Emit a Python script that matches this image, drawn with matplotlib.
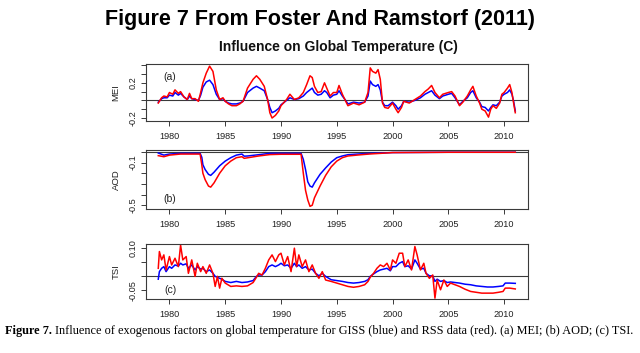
import matplotlib
matplotlib.use("Agg")
import matplotlib.pyplot as plt
from matplotlib.ticker import FixedLocator, FuncFormatter

# ---------------- data ----------------
mei_years = [1979.0, 1979.3, 1979.5, 1979.8, 1980.0, 1980.3, 1980.5, 1980.8, 1981.0, 1981.3,
             1981.6, 1981.8, 1982.0, 1982.3, 1982.6, 1982.8, 1983.0, 1983.3, 1983.6, 1983.9,
             1984.2, 1984.5, 1984.8, 1985.0, 1985.3, 1985.6, 1986.0, 1986.3, 1986.6, 1987.0,
             1987.5, 1987.8, 1988.1, 1988.5, 1988.8, 1989.0, 1989.2, 1989.5, 1989.8, 1990.0,
             1990.5, 1990.8, 1991.2, 1991.6, 1992.0, 1992.3, 1992.6, 1992.8, 1993.0, 1993.3,
             1993.6, 1993.9, 1994.1, 1994.4, 1994.7, 1995.0, 1995.2, 1995.5, 1995.8, 1996.0,
             1996.5, 1997.0, 1997.5, 1997.8, 1998.0, 1998.2, 1998.5, 1998.7, 1998.9, 1999.1,
             1999.3, 1999.6, 2000.0, 2000.3, 2000.5, 2000.8, 2001.0, 2001.5, 2002.0, 2002.5,
             2002.9, 2003.2, 2003.5, 2003.8, 2004.2, 2004.5, 2005.0, 2005.3, 2005.6, 2006.0,
             2006.3, 2006.7, 2007.0, 2007.2, 2007.5, 2007.8, 2008.0, 2008.3, 2008.6, 2008.8,
             2009.0, 2009.3, 2009.6, 2009.8, 2010.0, 2010.3, 2010.5, 2010.7, 2010.85, 2011.0]
mei_rss = [-0.03, 0.03, 0.05, 0.04, 0.09, 0.07, 0.12, 0.08, 0.10, 0.04,
           0.01, 0.08, 0.02, 0.02, -0.01, 0.09, 0.20, 0.31, 0.39, 0.33,
           0.12, 0.01, 0.03, -0.01, -0.04, -0.06, -0.06, -0.04, -0.01, 0.14,
           0.24, 0.28, 0.24, 0.16, 0.01, -0.14, -0.20, -0.17, -0.12, -0.06,
           0.01, 0.07, 0.01, 0.03, 0.09, 0.18, 0.28, 0.26, 0.16, 0.09,
           0.10, 0.20, 0.14, 0.05, 0.09, 0.09, 0.17, 0.07, -0.01, -0.06,
           -0.03, -0.05, -0.02, 0.09, 0.37, 0.33, 0.31, 0.35, 0.24, -0.03,
           -0.08, -0.09, -0.03, -0.10, -0.14, -0.08, -0.01, -0.03, 0.01, 0.05,
           0.10, 0.13, 0.17, 0.09, 0.03, 0.07, 0.09, 0.10, 0.05, -0.06,
           -0.02, 0.05, 0.12, 0.16, 0.05, -0.03, -0.10, -0.12, -0.19, -0.10,
           -0.06, -0.09, -0.03, 0.07, 0.09, 0.14, 0.18, 0.09, -0.03, -0.14]
mei_giss = [-0.02, 0.02, 0.03, 0.03, 0.06, 0.05, 0.09, 0.06, 0.08, 0.04,
            0.01, 0.05, 0.02, 0.01, 0.00, 0.06, 0.15, 0.21, 0.23, 0.18,
            0.07, 0.01, 0.02, -0.01, -0.03, -0.04, -0.04, -0.03, -0.01, 0.09,
            0.14, 0.16, 0.14, 0.11, 0.01, -0.08, -0.14, -0.12, -0.09, -0.05,
            0.00, 0.03, 0.01, 0.02, 0.05, 0.09, 0.12, 0.14, 0.09, 0.06,
            0.07, 0.11, 0.09, 0.03, 0.06, 0.07, 0.11, 0.05, 0.00, -0.04,
            -0.02, -0.03, -0.02, 0.05, 0.22, 0.18, 0.16, 0.18, 0.12, -0.02,
            -0.06, -0.06, -0.02, -0.06, -0.10, -0.06, -0.01, -0.02, 0.00, 0.03,
            0.07, 0.09, 0.11, 0.06, 0.02, 0.05, 0.07, 0.08, 0.03, -0.05,
            -0.01, 0.03, 0.09, 0.11, 0.03, -0.02, -0.07, -0.08, -0.12, -0.08,
            -0.05, -0.06, -0.02, 0.05, 0.07, 0.09, 0.12, 0.07, -0.01, -0.12]

aod_years = [1979.0, 1979.5, 1980.0, 1981.0, 1982.0, 1982.75, 1982.9, 1983.0, 1983.2, 1983.5,
             1983.7, 1984.0, 1984.5, 1985.0, 1985.5, 1986.0, 1986.5, 1986.7, 1987.0, 1988.0,
             1989.0, 1990.0, 1991.0, 1991.8, 1992.0, 1992.2, 1992.4, 1992.6, 1992.8, 1993.0,
             1993.5, 1994.0, 1994.5, 1995.0, 1995.5, 1996.0, 1997.0, 1998.0, 1999.0, 2000.0,
             2005.0, 2011.0]
aod_giss = [-0.010, -0.030, -0.020, -0.013, -0.013, -0.013, -0.050, -0.120, -0.165, -0.210,
            -0.220, -0.190, -0.130, -0.086, -0.054, -0.030, -0.020, -0.040, -0.038, -0.026,
            -0.013, -0.013, -0.013, -0.013, -0.070, -0.165, -0.280, -0.320, -0.330, -0.290,
            -0.210, -0.150, -0.095, -0.054, -0.038, -0.026, -0.019, -0.013, -0.010, -0.006,
            -0.003, -0.003]
aod_rss = [-0.035, -0.045, -0.030, -0.020, -0.020, -0.020, -0.120, -0.200, -0.260, -0.320,
           -0.330, -0.290, -0.200, -0.130, -0.086, -0.054, -0.045, -0.060, -0.055, -0.038,
           -0.025, -0.022, -0.022, -0.022, -0.200, -0.360, -0.450, -0.510, -0.500, -0.430,
           -0.320, -0.220, -0.140, -0.086, -0.054, -0.038, -0.028, -0.019, -0.013, -0.006,
           -0.003, -0.003]

tsi_years = [1979.0, 1979.1, 1979.3, 1979.5, 1979.7, 1980.0, 1980.2, 1980.5, 1980.8, 1981.0,
             1981.2, 1981.5, 1981.7, 1982.0, 1982.3, 1982.5, 1982.8, 1983.0, 1983.3, 1983.6,
             1983.9, 1984.1, 1984.3, 1984.5, 1984.7, 1985.0, 1985.5, 1986.0, 1986.5, 1987.0,
             1987.5, 1987.8, 1988.0, 1988.3, 1988.6, 1988.9, 1989.2, 1989.5, 1989.8, 1990.0,
             1990.3, 1990.6, 1990.9, 1991.2, 1991.4, 1991.6, 1991.9, 1992.2, 1992.5, 1992.8,
             1993.1, 1993.4, 1993.7, 1994.0, 1994.5, 1995.0, 1995.5, 1996.0, 1996.5, 1997.0,
             1997.5, 1997.8, 1998.0, 1998.3, 1998.6, 1998.9, 1999.2, 1999.5, 1999.8, 2000.0,
             2000.3, 2000.6, 2000.9, 2001.1, 2001.4, 2001.7, 2002.0, 2002.2, 2002.5, 2002.8,
             2003.0, 2003.3, 2003.6, 2003.8, 2004.0, 2004.3, 2004.6, 2004.9, 2005.2, 2005.6,
             2006.0, 2006.5, 2007.0, 2007.5, 2008.0, 2008.5, 2009.0, 2009.5, 2009.9, 2010.1,
             2010.5, 2011.0]
tsi_rss = [0.029, 0.089, 0.059, 0.077, 0.023, 0.071, 0.041, 0.065, 0.035, 0.112,
           0.059, 0.071, 0.011, 0.059, 0.000, 0.047, 0.017, 0.035, 0.011, 0.041,
           0.011, -0.036, 0.000, -0.042, -0.007, -0.024, -0.036, -0.034, -0.036, -0.034,
           -0.022, -0.003, 0.011, 0.005, 0.029, 0.059, 0.077, 0.053, 0.077, 0.083,
           0.041, 0.071, 0.017, 0.101, 0.035, 0.077, 0.035, 0.059, 0.017, 0.041,
           0.011, -0.007, 0.017, -0.013, -0.018, -0.024, -0.030, -0.036, -0.039, -0.036,
           -0.030, -0.018, -0.003, 0.011, 0.029, 0.041, 0.035, 0.047, 0.023, 0.059,
           0.047, 0.083, 0.083, 0.035, 0.059, 0.023, 0.107, 0.077, 0.023, 0.047,
           0.011, -0.007, 0.005, -0.078, -0.013, -0.048, -0.013, -0.036, -0.024, -0.030,
           -0.036, -0.046, -0.054, -0.057, -0.060, -0.060, -0.060, -0.057, -0.054, -0.042,
           -0.042, -0.045]
tsi_giss = [-0.010, 0.017, 0.029, 0.035, 0.017, 0.035, 0.029, 0.041, 0.037, 0.047,
            0.041, 0.045, 0.029, 0.041, 0.023, 0.035, 0.026, 0.029, 0.017, 0.023,
            0.011, 0.000, -0.003, -0.007, -0.010, -0.018, -0.022, -0.018, -0.022, -0.020,
            -0.015, 0.000, 0.005, 0.005, 0.017, 0.035, 0.041, 0.035, 0.041, 0.047,
            0.038, 0.041, 0.029, 0.047, 0.035, 0.041, 0.029, 0.035, 0.023, 0.026,
            0.011, 0.002, 0.011, 0.000, -0.012, -0.015, -0.018, -0.022, -0.024, -0.022,
            -0.018, -0.012, 0.000, 0.009, 0.017, 0.023, 0.026, 0.029, 0.020, 0.035,
            0.035, 0.047, 0.053, 0.035, 0.038, 0.026, 0.059, 0.047, 0.026, 0.029,
            0.011, 0.002, 0.002, -0.018, -0.010, -0.018, -0.015, -0.022, -0.020, -0.022,
            -0.024, -0.028, -0.030, -0.034, -0.036, -0.038, -0.038, -0.036, -0.034, -0.024,
            -0.024, -0.025]

x_ticks = [1980, 1985, 1990, 1995, 2000, 2005, 2010]

panels = [
    dict(name="MEI", tag="(a)", years=mei_years, giss=mei_giss, rss=mei_rss,
         ylim=(-0.234, 0.414), ticks=[-0.2, -0.1, 0.0, 0.1, 0.2, 0.3, 0.4],
         labels={-0.2: "-0.2", 0.2: "0.2"}, box=(146, 64, 528, 121), tagpos=(0.063, 0.77)),
    dict(name="AOD", tag="(b)", years=aod_years, giss=aod_giss, rss=aod_rss,
         ylim=(-0.535, 0.018), ticks=[-0.5, -0.4, -0.3, -0.2, -0.1, 0.0],
         labels={-0.1: "-0.1", -0.5: "-0.5"}, box=(146, 150, 528, 209), tagpos=(0.063, 0.17)),
    dict(name="TSI", tag="(c)", years=tsi_years, giss=tsi_giss, rss=tsi_rss,
         ylim=(-0.081, 0.116), ticks=[-0.05, 0.0, 0.05, 0.10],
         labels={-0.05: "-0.05", 0.10: "0.10"}, box=(146, 244, 528, 299), tagpos=(0.063, 0.17)),
]

# ---------------- figure ----------------
W, H = 640, 353
fig = plt.figure(figsize=(W / 100, H / 100), dpi=100)
fig.patch.set_facecolor("white")
SANS = ["Liberation Sans", "DejaVu Sans"]
SERIF = ["Liberation Serif", "DejaVu Serif"]
FRAME = "#3a3a3a"

for p in panels:
    l, t, r, b = p["box"]
    ax = fig.add_axes([l / W, 1 - b / H, (r - l) / W, (b - t) / H])
    ax.plot(p["years"], p["giss"], color="blue", lw=1.1, solid_joinstyle="round")
    ax.plot(p["years"], p["rss"], color="red", lw=1.1, solid_joinstyle="round")
    ax.axhline(0, color=FRAME, lw=0.8, zorder=1)
    ax.set_xlim(1977.9, 2012.14)
    ax.set_ylim(*p["ylim"])
    ax.xaxis.set_major_locator(FixedLocator(x_ticks))
    ax.yaxis.set_major_locator(FixedLocator(p["ticks"]))
    labs = p["labels"]
    def fmt(v, pos, labs=labs):
        for k, s in labs.items():
            if abs(v - k) < 1e-9:
                return s
        return ""
    ax.yaxis.set_major_formatter(FuncFormatter(fmt))
    for sp in ax.spines.values():
        sp.set_color(FRAME)
        sp.set_linewidth(0.8)
    ax.tick_params(axis="both", direction="out", length=3.8, width=0.7, color=FRAME,
                   labelsize=6.6, labelcolor="#222222")
    ax.tick_params(axis="x", pad=4)
    ax.tick_params(axis="y", pad=2.5, labelrotation=90)
    for lab in ax.get_yticklabels():
        lab.set_va("center")
        lab.set_family(SANS)
    for lab in ax.get_xticklabels():
        lab.set_family(SANS)
    ax.text(p["tagpos"][0], p["tagpos"][1], p["tag"], transform=ax.transAxes,
            ha="center", va="center", fontsize=7.5, family=SANS, color="#222222")
    yc = (t + b) / 2
    fig.text(116 / W, 1 - yc / H, p["name"], rotation=90, ha="center", va="center",
             fontsize=6.8, family=SANS, color="#222222")

fig.text(320 / W, 1 - 19 / H, "Figure 7 From Foster And Ramstorf (2011)", ha="center",
         va="center", fontsize=15.5, fontweight="bold", family=SANS, color="black")
fig.text(338 / W, 1 - 47 / H, "Influence on Global Temperature (C)", ha="center",
         va="center", fontsize=10, fontweight="bold", family=SANS, color="#111111")

# caption: bold lead followed by regular text
cap_y = 1 - 331 / H
t1 = fig.text(5 / W, cap_y, "Figure 7.", ha="left", va="center", fontsize=8.8,
              fontweight="bold", family=SERIF, color="black")
fig.canvas.draw()
bb = t1.get_window_extent(renderer=fig.canvas.get_renderer())
fig.text((bb.x1 + 3) / W, cap_y,
         "Influence of exogenous factors on global temperature for GISS (blue) and RSS data (red). (a) MEI; (b) AOD; (c) TSI.",
         ha="left", va="center", fontsize=8.8, family=SERIF, color="black")

fig.savefig("out.png", dpi=100, facecolor="white")
